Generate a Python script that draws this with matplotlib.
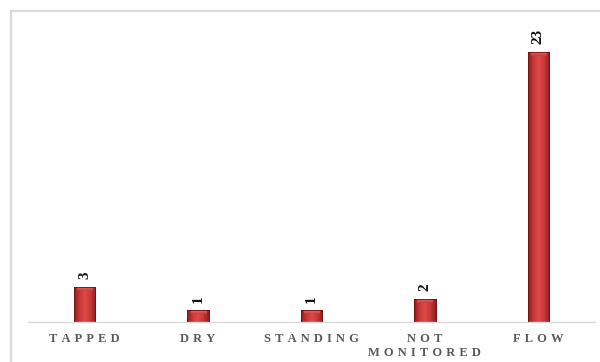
import matplotlib
matplotlib.use("Agg")
import matplotlib.pyplot as plt
import numpy as np
from matplotlib.patches import Rectangle
from matplotlib.lines import Line2D
from matplotlib.colors import LinearSegmentedColormap

categories = ["TAPPED", "DRY", "STANDING", "NOT\nMONITORED", "FLOW"]
counts = [3, 1, 1, 2, 23]

SERIF = ["Liberation Serif", "DejaVu Serif"]

fig = plt.figure(figsize=(6.0, 3.62), dpi=100)
fig.patch.set_facecolor("white")

# light frame along the top and left of the chart area
fx, fy = 10.5 / 600, 1 - 10.5 / 362
fig.add_artist(Line2D([fx, fx], [0, fy], transform=fig.transFigure,
                      color="#d9d9d9", linewidth=1.6))
fig.add_artist(Line2D([fx, 1.0], [fy, fy], transform=fig.transFigure,
                      color="#d9d9d9", linewidth=1.6))

ax = fig.add_axes([28 / 600, 40 / 362, 567 / 600, 300 / 362])
ax.set_facecolor("none")

x = np.arange(len(categories))
bars = ax.bar(x, counts, width=0.19, color="#c83a3a", edgecolor="#7a1515",
              linewidth=0.6, zorder=2)

ax.set_xlim(-0.5, len(categories) - 0.5)
ax.set_ylim(0, 25.55)

# shaded fill for each bar: dark edges, lighter centre, pale bevel at top
shade = LinearSegmentedColormap.from_list(
    "barshade", ["#8e1d1d", "#c73838", "#dc4a48", "#c73838", "#8e1d1d"])
bev = LinearSegmentedColormap.from_list("bev", ["#c83a3a", "#f07a78"])
grad = np.linspace(0, 1, 64).reshape(1, -1)
for b in bars:
    x0, w, h = b.get_x(), b.get_width(), b.get_height()
    im = ax.imshow(grad, cmap=shade, aspect="auto", interpolation="bilinear",
                   extent=(x0, x0 + w, 0, h), zorder=2.5)
    im.set_clip_path(b)
    bevel_h = min(0.35, h * 0.3)
    top = np.linspace(1, 0, 16).reshape(-1, 1) * np.ones((1, 8))
    im2 = ax.imshow(top, cmap=bev, aspect="auto", interpolation="bilinear",
                    extent=(x0 + w * 0.15, x0 + w * 0.85, h - bevel_h, h),
                    alpha=0.8, zorder=2.6)
    im2.set_clip_path(b)
    ax.add_patch(Rectangle((x0, 0), w, h, fill=False, edgecolor="#6e1212",
                           linewidth=0.6, zorder=3))
    ax.annotate(f"{int(h)}", (x0 + w / 2, h), xytext=(0, 5.5),
                textcoords="offset points", ha="center", va="bottom",
                rotation=90, fontsize=11, fontweight="bold",
                family=SERIF, color="#111111")

for s in ["top", "right", "left"]:
    ax.spines[s].set_visible(False)
ax.spines["bottom"].set_color("#d9d9d9")
ax.spines["bottom"].set_linewidth(1.0)
ax.set_yticks([])
ax.set_xticks(x)

# tracked-out uppercase labels
spaced = ["\n".join("\u2004".join(line) for line in c.split("\n"))
          for c in categories]
ax.set_xticklabels(spaced, family=SERIF, fontweight="bold", fontsize=9,
                   color="#595959", linespacing=1.2)
ax.tick_params(axis="x", length=0, pad=8)

fig.savefig("out.png", dpi=100, facecolor="white")
